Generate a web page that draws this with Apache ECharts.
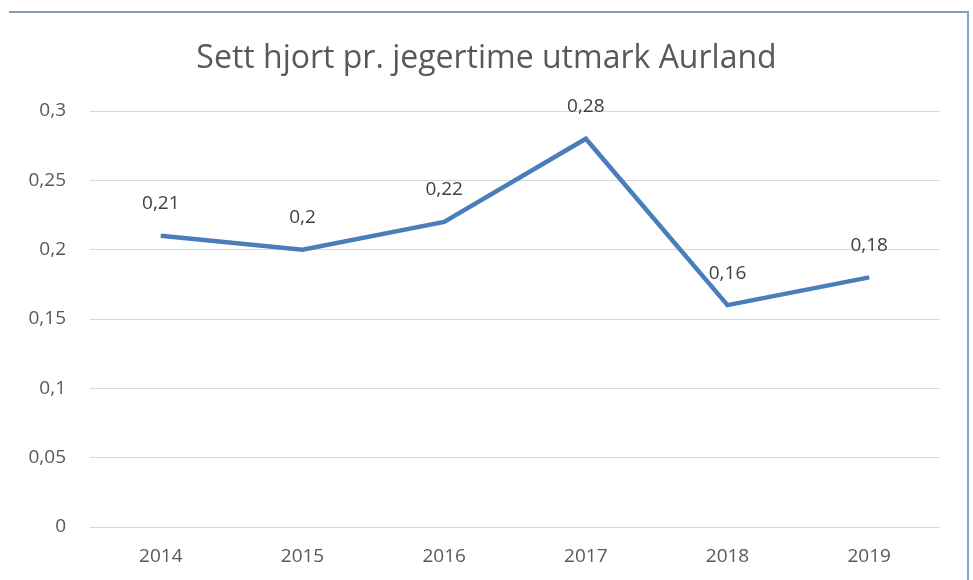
<!DOCTYPE html>
<html><head><meta charset="utf-8">
<script src="https://cdn.jsdelivr.net/npm/echarts@6/dist/echarts.min.js"></script>
<style>
html,body{margin:0;padding:0;background:#fff;}
#c{width:973px;height:580px;}
#frame{position:absolute;left:9px;top:11px;width:960px;height:580px;border-top:2px solid #8a9bb0;border-right:2px solid #7ea6d8;box-sizing:border-box;pointer-events:none;}
</style>
</head><body>
<div id="c"></div>
<div id="frame"></div>
<script>
const title = 'Sett hjort pr. jegertime utmark Aurland';
const years = ['2014', '2015', '2016', '2017', '2018', '2019'];
const values = [0.21, 0.2, 0.22, 0.28, 0.16, 0.18];
const yTicks = [0, 0.05, 0.1, 0.15, 0.2, 0.25, 0.3];

const fmt = v => String(v).replace('.', ',');
const chart = echarts.init(document.getElementById('c'), null, {renderer: 'canvas'});
chart.setOption({
  animation: false,
  title: {
    text: title, left: 'center', top: 38,
    textStyle: {fontFamily: 'Open Sans', fontSize: 32, fontWeight: 'normal', color: '#595959'}
  },
  grid: {left: 90, right: 33, top: 111, bottom: 53, containLabel: false},
  xAxis: {
    type: 'category', data: years, boundaryGap: true,
    axisLine: {show: false}, axisTick: {show: false},
    axisLabel: {fontFamily: 'Open Sans', fontSize: 19, color: '#595959', margin: 20}
  },
  yAxis: {
    type: 'value', min: yTicks[0], max: yTicks[yTicks.length - 1], interval: 0.05,
    axisLine: {show: false}, axisTick: {show: false},
    splitLine: {lineStyle: {color: '#d9d9d9', width: 1}},
    axisLabel: {fontFamily: 'Open Sans', fontSize: 19, color: '#595959', margin: 24, formatter: v => fmt(+v.toFixed(2))}
  },
  series: [{
    type: 'line', data: values, symbol: 'circle', symbolSize: 1, showSymbol: true,
    itemStyle: {color: '#4a7ebb'},
    lineStyle: {color: '#4a7ebb', width: 4.5, join: 'miter'},
    label: {show: true, position: 'top', distance: 22, formatter: p => fmt(p.value),
      fontFamily: 'Open Sans', fontSize: 19, color: '#404040'}
  }]
});
</script>
</body></html>
